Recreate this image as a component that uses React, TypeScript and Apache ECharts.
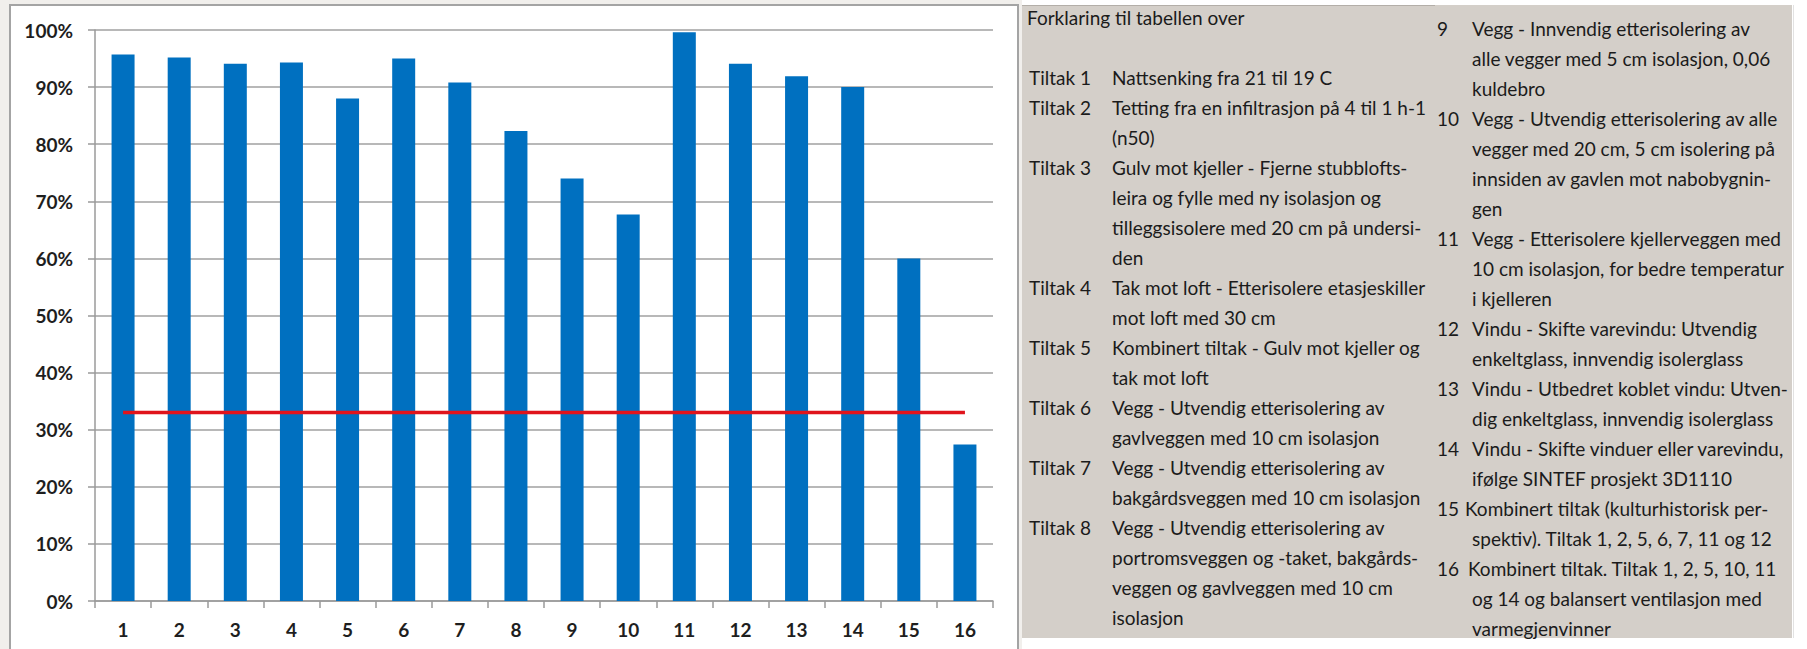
import React, { useEffect, useRef } from "react";
import * as echarts from "echarts";

const categories = ["1", "2", "3", "4", "5", "6", "7", "8", "9", "10", "11", "12", "13", "14", "15", "16"];
const savings = [95.7, 95.2, 94.1, 94.3, 88.0, 95.0, 90.8, 82.3, 74.0, 67.7, 99.6, 94.1, 91.9, 90.0, 60.0, 27.4];
const targetLine = [33, 33, 33, 33, 33, 33, 33, 33, 33, 33, 33, 33, 33, 33, 33, 33];
const yTicks = [0, 10, 20, 30, 40, 50, 60, 70, 80, 90, 100];

const panelTitle = "Forklaring til tabellen over";

const leftItems: [string, string[]][] = [
  ["Tiltak 1", ["Nattsenking fra 21 til 19 C"]],
  ["Tiltak 2", ["Tetting fra en infiltrasjon på 4 til 1 h-1", "(n50)"]],
  ["Tiltak 3", ["Gulv mot kjeller - Fjerne stubblofts-", "leira og fylle med ny isolasjon og", "tilleggsisolere med 20 cm på undersi-", "den"]],
  ["Tiltak 4", ["Tak mot loft - Etterisolere etasjeskiller", "mot loft med 30 cm"]],
  ["Tiltak 5", ["Kombinert tiltak - Gulv mot kjeller og", "tak mot loft"]],
  ["Tiltak 6", ["Vegg - Utvendig etterisolering av", "gavlveggen med 10 cm isolasjon"]],
  ["Tiltak 7", ["Vegg - Utvendig etterisolering av", "bakgårdsveggen med 10 cm isolasjon"]],
  ["Tiltak 8", ["Vegg - Utvendig etterisolering av", "portromsveggen og -taket, bakgårds-", "veggen og gavlveggen med 10 cm", "isolasjon"]],
];

const rightItems: [string, string[]][] = [
  ["9", ["Vegg - Innvendig etterisolering av", "alle vegger med 5 cm isolasjon, 0,06", "kuldebro"]],
  ["10", ["Vegg - Utvendig etterisolering av alle", "vegger med 20 cm, 5 cm isolering på", "innsiden av gavlen mot nabobygnin-", "gen"]],
  ["11", ["Vegg - Etterisolere kjellerveggen med", "10 cm isolasjon, for bedre temperatur", "i kjelleren"]],
  ["12", ["Vindu - Skifte varevindu: Utvendig", "enkeltglass, innvendig isolerglass"]],
  ["13", ["Vindu - Utbedret koblet vindu: Utven-", "dig enkeltglass, innvendig isolerglass"]],
  ["14", ["Vindu - Skifte vinduer eller varevindu,", "ifølge SINTEF prosjekt 3D1110"]],
  ["15", ["Kombinert tiltak (kulturhistorisk per-", "spektiv). Tiltak 1, 2, 5, 6, 7, 11 og 12"]],
  ["16", ["Kombinert tiltak. Tiltak 1, 2, 5, 10, 11", "og 14 og balansert ventilasjon med", "varmegjenvinner"]],
];

const FONT = "Lato, 'Open Sans', sans-serif";
const TEXT_SIZE = 19;
const LINE_H = 30;

const txt = (text: string, x: number, y: number) => ({
  type: "text",
  x,
  y,
  z: 10,
  style: {
    text,
    fill: "#1b1b1b",
    fontSize: TEXT_SIZE,
    fontFamily: FONT,
    verticalAlign: "middle",
  },
});

const buildPanel = () => {
  const els: any[] = [txt(panelTitle, 1027, 17)];
  let y = 77;
  leftItems.forEach(([label, lines]) => {
    els.push(txt(label, 1029, y));
    lines.forEach((l) => {
      els.push(txt(l, 1112, y));
      y += LINE_H;
    });
  });
  y = 28;
  rightItems.forEach(([num, lines]) => {
    els.push(txt(num, 1437, y));
    lines.forEach((l, i) => {
      // the two last items start a bit further left on their first line
      let x = 1472;
      if (i === 0 && num === "15") x = 1465;
      if (i === 0 && num === "16") x = 1468;
      els.push(txt(l, x, y));
      y += LINE_H;
    });
  });
  return els;
};

const App = () => {
  const chartRef = useRef<HTMLDivElement>(null);

  useEffect(() => {
    if (!chartRef.current) return;
    const chart = echarts.init(chartRef.current, undefined, { renderer: "svg" });

    const axisFont = {
      fontFamily: FONT,
      fontSize: 19,
      fontWeight: "bold" as const,
      color: "#1e1e1e",
    };

    chart.setOption({
      animation: false,
      backgroundColor: "#ffffff",
      graphic: [
        { type: "rect", z: -5, shape: { x: 0, y: 0, width: 1022, height: 649 }, style: { fill: "#f1efec" } },
        {
          type: "rect",
          z: -4,
          shape: { x: 10, y: 5, width: 1008, height: 660 },
          style: { fill: "#ffffff", stroke: "#a4a4a4", lineWidth: 2 },
        },
        { type: "rect", z: -4, shape: { x: 1022, y: 5, width: 770, height: 633 }, style: { fill: "#d4cfc9" } },
        { type: "line", z: -3, shape: { x1: 1022, y1: 5.5, x2: 1435, y2: 5.5 }, style: { stroke: "#b3aea8", lineWidth: 1 } },
        { type: "line", z: -3, shape: { x1: 1793.5, y1: 5, x2: 1793.5, y2: 638 }, style: { stroke: "#e2e2e2", lineWidth: 1 } },
        ...buildPanel(),
      ],
      grid: { left: 95, right: 814, top: 30, bottom: 48, containLabel: false },
      xAxis: {
        type: "category",
        data: categories,
        boundaryGap: true,
        axisLine: { lineStyle: { color: "#9a9a9a", width: 1.5 } },
        axisTick: { show: true, length: 7, lineStyle: { color: "#9a9a9a", width: 1.5 } },
        axisLabel: { ...axisFont, margin: 19 },
      },
      yAxis: {
        type: "value",
        min: yTicks[0],
        max: yTicks[yTicks.length - 1],
        interval: 10,
        axisLine: { show: true, lineStyle: { color: "#9a9a9a", width: 1.5 } },
        axisTick: { show: true, length: 7, lineStyle: { color: "#9a9a9a", width: 1.5 } },
        axisLabel: { ...axisFont, margin: 22, formatter: "{value}%" },
        splitLine: { show: true, lineStyle: { color: "#a0a0a0", width: 1.5 } },
      },
      series: [
        {
          type: "bar",
          data: savings,
          barWidth: 23,
          itemStyle: { color: "#0070c0" },
        },
        {
          type: "line",
          data: targetLine,
          symbol: "none",
          z: 5,
          lineStyle: { color: "#e0141c", width: 3.5 },
        },
      ],
    });

    return () => {
      chart.dispose();
    };
  }, []);

  return (
    <div
      ref={chartRef}
      style={{ position: "fixed", left: 0, top: 0, width: "1807px", height: "649px" }}
    ></div>
  );
};

export default App;
